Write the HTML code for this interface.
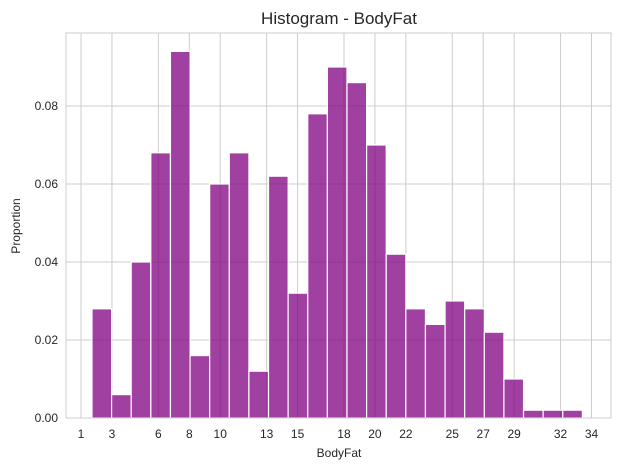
<!DOCTYPE html>
<html><head><meta charset="utf-8"><style>
body{margin:0;background:#fff;font-family:"Liberation Sans",Arial,sans-serif}
</style></head><body>
<svg id="chart" width="618" height="471" xmlns="http://www.w3.org/2000/svg" font-family="Liberation Sans, Arial, sans-serif">
<rect width="618" height="471" fill="#fff"/>
<g id="grid"></g><g id="bars"></g><g id="axes"></g>
<text x="339" y="24" font-size="17" text-anchor="middle" fill="#262626">Histogram - BodyFat</text>
<text x="339" y="457" font-size="12" text-anchor="middle" fill="#262626">BodyFat</text>
<text transform="translate(20,226) rotate(-90)" font-size="12" text-anchor="middle" fill="#262626">Proportion</text>
</svg>
<script>
const binStart = 1.71;
const binWidth = 1.268;
const proportions = [0.028,0.006,0.040,0.068,0.094,0.016,0.060,0.068,0.012,0.062,0.032,0.078,0.090,0.086,0.070,0.042,0.028,0.024,0.030,0.028,0.022,0.010,0.002,0.002,0.002];
const xTicks = [1,3,6,8,10,13,15,18,20,22,25,27,29,32,34];
const yTicks = [0,0.02,0.04,0.06,0.08];
const yTickLabels = ["0.00","0.02","0.04","0.06","0.08"];
const L=66,R=611,T=33,B=418;
const xs=v=>81+(v-1)*15.47;
const ys=v=>B-v*3900;
const NS="http://www.w3.org/2000/svg";
function mk(tag,attrs,parent){const e=document.createElementNS(NS,tag);for(const k in attrs)e.setAttribute(k,attrs[k]);document.getElementById(parent).appendChild(e);return e;}
yTicks.forEach((t,i)=>{
  const l=mk('line',{x1:L,x2:R,y1:ys(t),y2:ys(t),stroke:'#cccccc','stroke-width':1},'grid');
  
  
  const tx=mk('text',{x:L-8,y:ys(t)+4,'font-size':12,'text-anchor':'end',fill:'#262626'},'axes');
  tx.textContent=yTickLabels[i];
  
  
});
xTicks.forEach(t=>{
  const l=mk('line',{x1:xs(t),x2:xs(t),y1:T,y2:B,stroke:'#cccccc','stroke-width':1},'grid');
  
  
  const tx=mk('text',{x:xs(t),y:B+20,'font-size':12,'text-anchor':'middle',fill:'#262626'},'axes');
  tx.textContent=t;
  
  
});
proportions.forEach((p,i)=>{
  const x0=xs(binStart+i*binWidth),x1=xs(binStart+(i+1)*binWidth);
  const r=mk('rect',{x:x0,y:ys(p),width:x1-x0,height:B-ys(p),fill:'#800080','fill-opacity':0.75,stroke:'#fff','stroke-width':1.2},'bars');
  
  
});
const fr=mk('rect',{x:L,y:T,width:R-L,height:B-T,fill:'none',stroke:'#cccccc','stroke-width':1},'axes');


</script>
</body></html>
